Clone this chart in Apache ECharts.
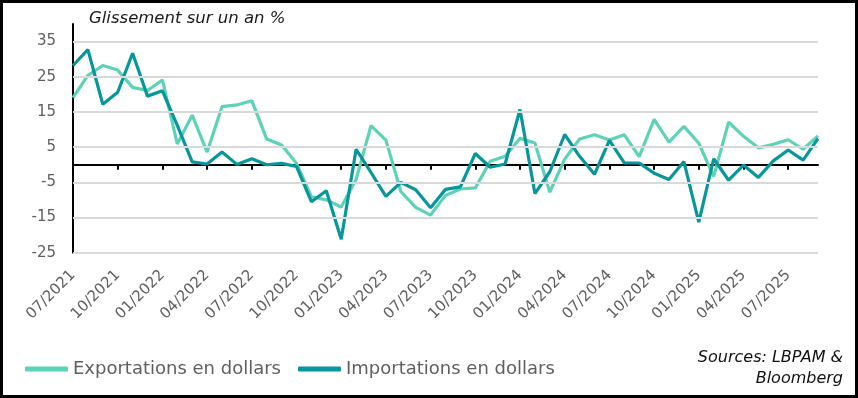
<!DOCTYPE html>
<html>
<head>
<meta charset="utf-8">
<script src="https://cdn.jsdelivr.net/npm/echarts@6/dist/echarts.min.js"></script>
<style>
html,body{margin:0;padding:0;background:#fff;}
#chart{width:858px;height:398px;}
</style>
</head>
<body>
<div id="chart"></div>
<script>
// Monthly categories 07/2021 .. 09/2025
const months = [
  "07/2021","08/2021","09/2021","10/2021","11/2021","12/2021",
  "01/2022","02/2022","03/2022","04/2022","05/2022","06/2022","07/2022","08/2022","09/2022","10/2022","11/2022","12/2022",
  "01/2023","02/2023","03/2023","04/2023","05/2023","06/2023","07/2023","08/2023","09/2023","10/2023","11/2023","12/2023",
  "01/2024","02/2024","03/2024","04/2024","05/2024","06/2024","07/2024","08/2024","09/2024","10/2024","11/2024","12/2024",
  "01/2025","02/2025","03/2025","04/2025","05/2025","06/2025","07/2025","08/2025","09/2025"
];
const exportsUSD = [
  19.1, 25.4, 28.2, 26.9, 22.0, 21.1,
  24.1, 5.9, 14.1, 3.6, 16.5, 17.0, 18.2, 7.3, 5.6, 0.4, -9.1, -10.0,
  -12.0, -4.2, 11.1, 7.0, -7.6, -12.1, -14.3, -8.7, -6.9, -6.6, 1.0, 2.4,
  7.5, 6.2, -7.8, 1.6, 7.3, 8.5, 7.0, 8.5, 2.3, 12.9, 6.4, 10.9,
  6.1, -3.3, 12.1, 8.1, 4.8, 5.8, 7.1, 4.4, 8.2
];
const importsUSD = [
  28.2, 32.7, 17.2, 20.6, 31.7, 19.5,
  21.0, 11.2, 0.8, 0.2, 3.6, 0.1, 1.7, 0.0, 0.4, -0.5, -10.5, -7.4,
  -21.2, 4.4, -2.2, -9.0, -5.0, -7.1, -12.2, -7.0, -6.3, 3.2, -0.7, 0.2,
  15.7, -8.2, -2.0, 8.6, 2.4, -2.7, 6.9, 0.5, 0.5, -2.4, -4.2, 0.9,
  -16.3, 1.7, -4.4, -0.1, -3.6, 1.1, 4.2, 1.3, 7.4
];
const yTickLabels = [-25, -15, -5, 5, 15, 25, 35];
const seriesNames = ["Exportations en dollars", "Importations en dollars"];
const titleText = "Glissement sur un an %";
const sourceText = "Sources: LBPAM &\nBloomberg";

const FONT = "DejaVu Sans";
const chart = echarts.init(document.getElementById('chart'), null, {renderer: 'canvas'});
chart.setOption({
  animation: false,
  backgroundColor: '#ffffff',
  grid: {left: 73, right: 40, top: 24, bottom: 145.3, containLabel: false},
  legend: {
    data: seriesNames,
    left: 20, top: 355,
    icon: 'roundRect', itemWidth: 43, itemHeight: 5, itemGap: 17,
    textStyle: {fontFamily: FONT, fontSize: 18, color: '#5f5f5f'}
  },
  xAxis: [
    {
      type: 'category', data: months, boundaryGap: false,
      axisLine: {onZero: true, lineStyle: {color: '#000', width: 2}},
      axisTick: {show: true, interval: 2, length: 5, lineStyle: {color: '#000', width: 2}},
      axisLabel: {show: false},
      splitLine: {show: false}
    },
    {
      type: 'category', data: months, boundaryGap: false, position: 'bottom',
      axisLine: {show: false, onZero: false},
      axisTick: {show: false},
      axisLabel: {interval: 2, rotate: 45, margin: 20, fontFamily: FONT, fontSize: 15, color: '#5f5f5f'},
      splitLine: {show: false}
    }
  ],
  yAxis: {
    type: 'value', min: -25, max: 40, interval: 5,
    axisLine: {show: true, lineStyle: {color: '#000', width: 2}},
    axisTick: {show: false},
    splitLine: {show: false},
    axisLabel: {
      margin: 17, fontFamily: FONT, fontSize: 15, color: '#5f5f5f',
      formatter: v => yTickLabels.includes(v) ? String(v) : ''
    }
  },
  series: [
    {
      name: '__grid', type: 'line', data: [], z: 1, silent: true,
      markLine: {
        silent: true, symbol: ['none', 'none'], animation: false,
        label: {show: false},
        lineStyle: {color: '#d9d9d9', width: 2, type: 'solid'},
        data: yTickLabels.map(v => ({yAxis: v}))
      }
    },
    {
      name: seriesNames[0], type: 'line', data: exportsUSD, z: 3,
      showSymbol: false, symbol: 'none',
      itemStyle: {color: '#5cd3b6'},
      lineStyle: {color: '#5cd3b6', width: 3.2}
    },
    {
      name: seriesNames[1], type: 'line', data: importsUSD, z: 4,
      showSymbol: false, symbol: 'none',
      itemStyle: {color: '#07969b'},
      lineStyle: {color: '#07969b', width: 3.2}
    }
  ],
  graphic: [
    {type: 'rect', shape: {x: 1.5, y: 1.5, width: 855, height: 395}, style: {fill: 'none', stroke: '#000', lineWidth: 3}, z: 100},
    {type: 'text', left: 89, top: 10, style: {text: titleText, font: 'italic 16.5px "DejaVu Sans"', fill: '#1a1a1a'}},
    {type: 'text', x: 843, y: 348, style: {text: sourceText, font: 'italic 16px "DejaVu Sans"', fill: '#111', align: 'right', verticalAlign: 'top', lineHeight: 20.5}}
  ]
});
</script>
</body>
</html>
